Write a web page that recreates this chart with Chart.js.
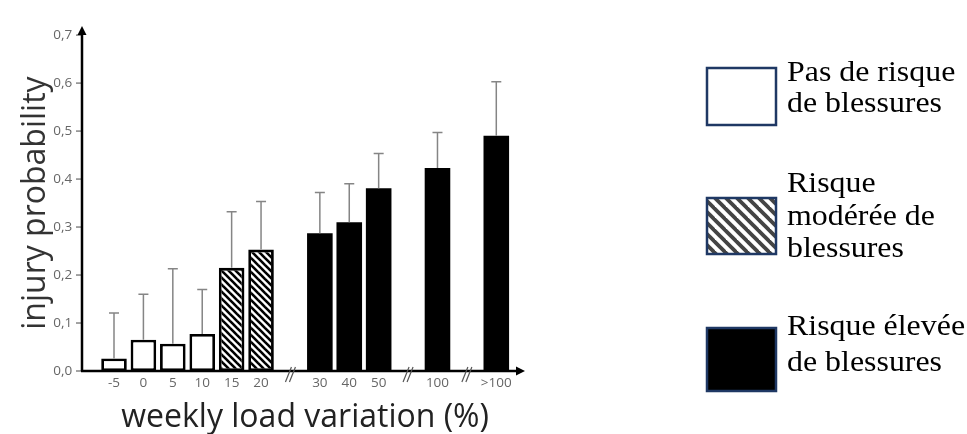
<!DOCTYPE html>
<html>
<head>
<meta charset="utf-8">
<script src="https://cdn.jsdelivr.net/npm/chart.js@4/dist/chart.umd.min.js"></script>
<style>
  html, body { margin: 0; padding: 0; background: #fff; }
  #wrap { width: 967px; height: 434px; }
</style>
</head>
<body>
<div id="wrap"><canvas id="chart" width="967" height="434"></canvas></div>
<script>
// categories (empty strings are the axis breaks "//")
const CATEGORIES = ['-5', '0', '5', '10', '15', '20', '', '30', '40', '50', '', '100', '', '>100'];
const PROBABILITY = [0.026, 0.065, 0.057, 0.077, 0.215, 0.253, null, 0.287, 0.310, 0.381, null, 0.423, null, 0.490];
const ERROR_TOP = [0.121, 0.160, 0.213, 0.170, 0.332, 0.353, null, 0.372, 0.390, 0.453, null, 0.497, null, 0.603];
const RISK = ['none', 'none', 'none', 'none', 'moderate', 'moderate', null, 'high', 'high', 'high', null, 'high', null, 'high'];
const Y_TICKS = [0, 0.1, 0.2, 0.3, 0.4, 0.5, 0.6, 0.7];

const LEGEND_LABELS = [
    ['Pas de risque', 'de blessures'],
    ['Risque', 'modérée de', 'blessures'],
    ['Risque élevée', 'de blessures']
];
const LEGEND_RISK = ['none', 'moderate', 'high'];

const TICK_COLOR = '#666';
const AXIS_COLOR = '#000';
const ERROR_COLOR = '#858585';
const LEGEND_BORDER = '#1f3864';

function makeHatch(size, lineWidth, color) {
    const c = document.createElement('canvas');
    c.width = size;
    c.height = size;
    const g = c.getContext('2d');
    g.fillStyle = '#fff';
    g.fillRect(0, 0, size, size);
    g.strokeStyle = color;
    g.lineWidth = lineWidth;
    g.lineCap = 'square';
    // "\" stripes
    [-size, 0, size].forEach(off => {
        g.beginPath();
        g.moveTo(off, 0);
        g.lineTo(off + size, size);
        g.stroke();
    });
    return g.createPattern(c, 'repeat');
}

const barHatch = makeHatch(7, 2.6, '#000');
const legendHatch = makeHatch(11, 3.8, '#444');

function fillFor(risk, hatch) {
    if (risk === 'moderate') return hatch;
    if (risk === 'high') return '#000';
    return '#fff';
}

function getErrorBarPlugin() {
    return {
        id: 'errorBars',
        afterDatasetsDraw(chart) {
            const { ctx, scales: { x, y } } = chart;
            ctx.save();
            ctx.strokeStyle = ERROR_COLOR;
            ctx.lineWidth = 1.5;
            ERROR_TOP.forEach((top, i) => {
                if (top === null) return;
                const px = x.getPixelForValue(i);
                const y0 = y.getPixelForValue(PROBABILITY[i]);
                const y1 = y.getPixelForValue(top);
                ctx.beginPath();
                ctx.moveTo(px, y0);
                ctx.lineTo(px, y1);
                ctx.moveTo(px - 5, y1);
                ctx.lineTo(px + 5, y1);
                ctx.stroke();
            });
            ctx.restore();
        }
    };
}

function getAxesPlugin() {
    return {
        id: 'arrowAxes',
        afterDraw(chart) {
            const { ctx, scales: { x, y } } = chart;
            const ax = 82;
            const y0 = y.getPixelForValue(0);
            const yTop = y.getPixelForValue(0.7) - 5;
            const xEnd = x.right + 12;

            ctx.save();
            // small tick marks on y axis
            ctx.strokeStyle = TICK_COLOR;
            ctx.lineWidth = 1.2;
            Y_TICKS.forEach(v => {
                const py = y.getPixelForValue(v);
                ctx.beginPath();
                ctx.moveTo(ax - 6, py);
                ctx.lineTo(ax, py);
                ctx.stroke();
            });

            ctx.strokeStyle = AXIS_COLOR;
            ctx.fillStyle = AXIS_COLOR;
            ctx.lineWidth = 2.5;
            ctx.beginPath();
            ctx.moveTo(ax, y0);
            ctx.lineTo(ax, yTop + 4);
            ctx.moveTo(ax - 1, y0);
            ctx.lineTo(xEnd - 4, y0);
            ctx.stroke();

            // arrow heads
            ctx.beginPath();
            ctx.moveTo(ax, yTop - 4);
            ctx.lineTo(ax - 4.5, yTop + 5);
            ctx.lineTo(ax + 4.5, yTop + 5);
            ctx.closePath();
            ctx.fill();
            ctx.beginPath();
            ctx.moveTo(xEnd + 2, y0);
            ctx.lineTo(xEnd - 7, y0 - 4.5);
            ctx.lineTo(xEnd - 7, y0 + 4.5);
            ctx.closePath();
            ctx.fill();

            // axis breaks
            ctx.strokeStyle = '#555';
            ctx.lineWidth = 1.2;
            CATEGORIES.forEach((c, i) => {
                if (c !== '') return;
                const px = x.getPixelForValue(i);
                [-2, 2].forEach(d => {
                    ctx.beginPath();
                    ctx.moveTo(px + d - 3, y0 + 11);
                    ctx.lineTo(px + d + 3, y0 - 4);
                    ctx.stroke();
                });
            });
            ctx.restore();
        }
    };
}

function getLegendPlugin() {
    return {
        id: 'sideLegend',
        afterDraw(chart) {
            const { ctx } = chart;
            const boxes = [
                { y: 68, h: 57, lines: [81, 112] },
                { y: 198, h: 56, lines: [192, 225, 257] },
                { y: 328, h: 63, lines: [335, 371] }
            ];
            ctx.save();
            boxes.forEach((b, i) => {
                ctx.fillStyle = fillFor(LEGEND_RISK[i], legendHatch);
                ctx.fillRect(707, b.y, 69, b.h);
                ctx.strokeStyle = LEGEND_BORDER;
                ctx.lineWidth = 2.5;
                ctx.strokeRect(707, b.y, 69, b.h);

                ctx.fillStyle = '#000';
                ctx.font = '29px "Liberation Serif", "Times New Roman", serif';
                ctx.textBaseline = 'alphabetic';
                LEGEND_LABELS[i].forEach((txt, k) => {
                    ctx.save();
                    ctx.translate(787, b.lines[k]);
                    ctx.scale(1.1, 1);
                    ctx.fillText(txt, 0, 0);
                    ctx.restore();
                });
            });
            ctx.restore();
        }
    };
}

new Chart(document.getElementById('chart'), {
    type: 'bar',
    data: {
        labels: CATEGORIES,
        datasets: [{
            data: PROBABILITY,
            backgroundColor: RISK.map(r => fillFor(r, barHatch)),
            borderColor: '#000',
            borderWidth: RISK.map(r => r === 'high' ? 0 : 2.8),
            borderSkipped: false,
            barPercentage: 0.87,
            categoryPercentage: 1
        }]
    },
    options: {
        responsive: false,
        animation: false,
        layout: { padding: { left: 0, right: 456, top: 25, bottom: 0 } },
        plugins: {
            legend: { display: false },
            tooltip: { enabled: false }
        },
        scales: {
            x: {
                offset: true,
                grid: { display: false, drawTicks: false },
                border: { display: false },
                ticks: {
                    autoSkip: false,
                    maxRotation: 0,
                    padding: 4,
                    color: TICK_COLOR,
                    font: { family: '"Open Sans", sans-serif', size: 13.5 }
                },
                title: {
                    display: true,
                    text: 'weekly load variation (%)',
                    color: '#222',
                    font: { family: '"Open Sans", sans-serif', size: 32, lineHeight: 1 },
                    padding: { top: 0, bottom: 0 }
                },
                afterFit(scale) { scale.height = 63; }
            },
            y: {
                min: 0,
                max: 0.7,
                grid: { display: false, drawTicks: false },
                border: { display: false },
                ticks: {
                    stepSize: 0.1,
                    padding: 27,
                    color: TICK_COLOR,
                    font: { family: '"Open Sans", sans-serif', size: 13.5 },
                    callback: v => v.toFixed(1).replace('.', ',')
                },
                title: {
                    display: true,
                    text: 'injury probability',
                    color: '#333',
                    font: { family: '"Open Sans", sans-serif', size: 32, lineHeight: 1 },
                    padding: { top: 20, bottom: 0 }
                },
                afterFit(scale) { scale.width = 99.3; }
            }
        }
    },
    plugins: [getErrorBarPlugin(), getAxesPlugin(), getLegendPlugin()]
});
</script>
</body>
</html>
